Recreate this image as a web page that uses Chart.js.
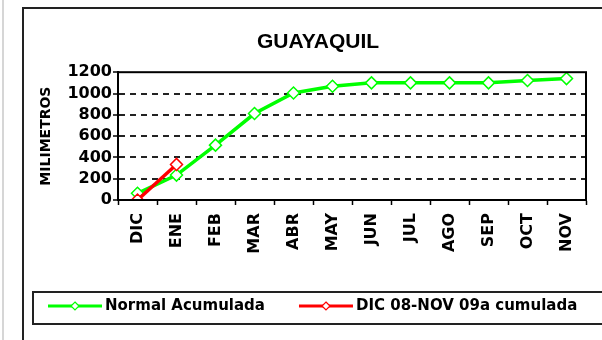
<!DOCTYPE html>
<html>
<head>
<meta charset="utf-8">
<script src="https://cdn.jsdelivr.net/npm/chart.js@4"></script>
<style>
  html, body { margin: 0; padding: 0; background: #fff; }
  canvas { display: block; }
</style>
</head>
<body>
<canvas id="rainChart" width="602" height="340"></canvas>
<script>
// months, December to November
const months = ['DIC', 'ENE', 'FEB', 'MAR', 'ABR', 'MAY', 'JUN', 'JUL', 'AGO', 'SEP', 'OCT', 'NOV'];
// cumulative normal rainfall (mm)
const normalAcum = [63, 234, 515, 812, 1005, 1068, 1100, 1100, 1100, 1100, 1122, 1140];
// cumulative rainfall Dec 08 - Nov 09 (mm), only first two months so far
const actualAcum = [0, 334];
const yMax = 1200;
const yStep = 200;

const legendNames = ['Normal Acumulada', 'DIC 08-NOV 09a cumulada'];
const GREEN = '#00ff00';
const RED = '#ff0000';

// frames around the whole chart, the plot area, plus a boxed legend
const framePlugin = {
  id: 'frames',
  afterDraw(chart) {
    const ctx = chart.ctx;
    const a = chart.chartArea;
    ctx.save();
    // light edge on the left
    ctx.strokeStyle = '#d6d6d6';
    ctx.lineWidth = 2;
    ctx.beginPath();
    ctx.moveTo(3, 0);
    ctx.lineTo(3, 340);
    ctx.stroke();
    // outer chart border
    ctx.strokeStyle = '#222';
    ctx.lineWidth = 2;
    ctx.strokeRect(23, 8, 620, 360);
    // plot area border
    ctx.strokeStyle = '#000';
    ctx.strokeRect(a.left, a.top, a.right - a.left, a.bottom - a.top);

    // legend
    const top = 292, bottom = 324, mid = 306;
    ctx.strokeStyle = '#222';
    ctx.strokeRect(33, top, 600, bottom - top);
    ctx.font = 'bold 15px "DejaVu Sans"';
    ctx.textBaseline = 'middle';
    let x = 48;
    chart.data.datasets.forEach(ds => {
      ctx.strokeStyle = ds.borderColor;
      ctx.lineWidth = 3;
      ctx.beginPath();
      ctx.moveTo(x, mid);
      ctx.lineTo(x + 54, mid);
      ctx.stroke();
      ctx.fillStyle = '#fff';
      ctx.lineWidth = 1.2;
      ctx.beginPath();
      ctx.moveTo(x + 27, mid - 4);
      ctx.lineTo(x + 31, mid);
      ctx.lineTo(x + 27, mid + 4);
      ctx.lineTo(x + 23, mid);
      ctx.closePath();
      ctx.fill();
      ctx.stroke();
      ctx.fillStyle = '#000';
      ctx.fillText(ds.label, x + 57, mid);
      x += 57 + ctx.measureText(ds.label).width + 34;
    });
    ctx.restore();
  }
};

new Chart(document.getElementById('rainChart').getContext('2d'), {
  type: 'line',
  data: {
    labels: months,
    datasets: [{
      label: legendNames[0],
      data: normalAcum,
      borderColor: GREEN,
      borderWidth: 3.5,
      pointStyle: 'rectRot',
      pointRadius: 6,
      pointBorderWidth: 1.5,
      pointBorderColor: GREEN,
      pointBackgroundColor: '#fff',
      tension: 0,
      order: 1
    }, {
      label: legendNames[1],
      data: actualAcum,
      borderColor: RED,
      borderWidth: 3.5,
      pointStyle: 'rectRot',
      pointRadius: 6,
      pointBorderWidth: 1.5,
      pointBorderColor: RED,
      pointBackgroundColor: '#fff',
      tension: 0,
      order: 0
    }]
  },
  options: {
    responsive: false,
    animation: false,
    events: [],
    layout: { padding: { left: 50, right: 16, top: 0, bottom: 48 } },
    plugins: {
      legend: { display: false },
      tooltip: { enabled: false },
      title: {
        display: true,
        text: 'GUAYAQUIL',
        color: '#000',
        font: { family: '"Liberation Sans", Arial', size: 21, weight: 'bold' },
        padding: { top: 30, bottom: 17 }
      }
    },
    scales: {
      x: {
        offset: true,
        afterFit: s => { s.height = 92; },
        grid: {
          offset: true,
          drawOnChartArea: false,
          tickLength: 5,
          tickColor: '#000',
          tickWidth: 1.5
        },
        border: { color: '#000', width: 2 },
        ticks: {
          autoSkip: false,
          maxRotation: 90,
          minRotation: 90,
          padding: 8,
          color: '#000',
          font: { family: '"DejaVu Sans"', size: 16, weight: 'bold' }
        }
      },
      y: {
        min: 0,
        max: yMax,
        afterFit: s => { s.width = 68; },
        grid: {
          color: c => (c.tick && (c.tick.value === 0 || c.tick.value === yMax)) ? 'rgba(0,0,0,0)' : '#222',
          lineWidth: 2,
          tickLength: 5,
          tickColor: '#000',
          tickWidth: 1.5,
          tickBorderDash: []
        },
        border: { color: '#000', width: 2, dash: [6, 5] },
        ticks: {
          stepSize: yStep,
          autoSkip: false,
          padding: 1,
          color: '#000',
          callback: v => String(v),
          font: { family: '"DejaVu Sans"', size: 16, weight: 'bold' }
        },
        title: {
          display: true,
          text: 'MILIMETROS',
          color: '#000',
          padding: { top: -12, bottom: 0 },
          font: { family: '"DejaVu Sans"', size: 14, weight: 'bold' }
        }
      }
    }
  },
  plugins: [framePlugin]
});
</script>
</body>
</html>
